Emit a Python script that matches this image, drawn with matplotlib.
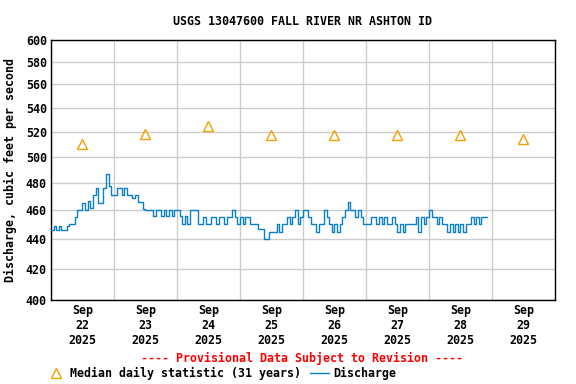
import numpy as np
import pandas as pd
import matplotlib
matplotlib.use("Agg")
import matplotlib.pyplot as plt
import matplotlib.dates as mdates
from matplotlib.ticker import FixedLocator, FixedFormatter, NullLocator

# Median daily statistic, one per day (plotted at noon)
median_days = ["2025-09-22", "2025-09-23", "2025-09-24", "2025-09-25",
               "2025-09-26", "2025-09-27", "2025-09-28", "2025-09-29"]
median_cfs = [510, 518, 525, 517, 517, 517, 517, 514]

# Hourly discharge, starting Sep 22 00:00
sep22 = [446, 449, 446, 449, 446, 446, 449, 450, 450, 455, 460, 460,
         465, 460, 467, 462, 471, 476, 465, 465, 476, 487, 478, 471]
sep23 = [471, 476, 476, 471, 476, 471, 471, 469, 471, 466, 466, 461,
         460, 460, 460, 456, 460, 460, 456, 460, 456, 460, 456, 460]
sep24 = [460, 456, 450, 456, 450, 460, 460, 460, 450, 450, 455, 450,
         450, 455, 455, 450, 455, 455, 450, 455, 455, 460, 455, 450]
sep25 = [455, 450, 455, 455, 450, 450, 450, 447, 447, 440, 440, 445,
         445, 445, 450, 445, 450, 450, 455, 450, 455, 460, 450, 455]
sep26 = [460, 460, 455, 450, 450, 445, 450, 450, 460, 455, 450, 445,
         450, 445, 450, 455, 460, 466, 460, 460, 455, 460, 455, 450]
sep27 = [450, 450, 455, 455, 450, 455, 450, 455, 450, 450, 455, 450,
         445, 450, 445, 450, 450, 450, 450, 455, 445, 455, 450, 455]
sep28 = [460, 455, 455, 450, 455, 450, 450, 445, 450, 445, 450, 445,
         450, 445, 450, 450, 455, 450, 455, 450, 455, 455, 455]

discharge = sep22 + sep23 + sep24 + sep25 + sep26 + sep27 + sep28
times = pd.date_range("2025-09-22 00:00", periods=len(discharge), freq="h")
median_times = pd.to_datetime(median_days) + pd.Timedelta(hours=12)

yticks = [400, 420, 440, 460, 480, 500, 520, 540, 560, 580, 600]

font = {"family": "DejaVu Sans Mono", "weight": "bold", "size": 8.4}

fig = plt.figure(figsize=(5.76, 3.84), dpi=100)
ax = fig.add_axes([0.0885, 0.21875, 0.875, 0.677])

line, = ax.plot(times, discharge, drawstyle="steps-post", color="#0a80cc",
                linewidth=1.0, zorder=3)
med, = ax.plot(median_times, median_cfs, linestyle="none", marker="^",
               markersize=7.5, markerfacecolor="none", markeredgecolor="#f5a000",
               markeredgewidth=1.0, zorder=4)

ax.set_yscale("log")
ax.set_ylim(400, 600)
ax.yaxis.set_major_locator(FixedLocator(yticks))
ax.yaxis.set_major_formatter(FixedFormatter([str(v) for v in yticks]))
ax.yaxis.set_minor_locator(NullLocator())

ax.set_xlim(pd.Timestamp("2025-09-22"), pd.Timestamp("2025-09-30"))
ax.xaxis.set_major_locator(mdates.HourLocator(byhour=12))
ax.xaxis.set_major_formatter(mdates.DateFormatter("%b\n%d\n%Y"))
ax.xaxis.set_minor_locator(mdates.DayLocator())

ax.grid(True, which="minor", axis="x", color="#cccccc", linewidth=1)
ax.grid(True, which="major", axis="y", color="#cccccc", linewidth=1)
ax.set_axisbelow(True)
ax.tick_params(which="both", length=0, pad=3)
for lab in ax.get_xticklabels() + ax.get_yticklabels():
    lab.set_fontproperties(matplotlib.font_manager.FontProperties(**font))
for lab in ax.get_xticklabels():
    lab.set_linespacing(1.2)
for s in ax.spines.values():
    s.set_linewidth(1.0)

ax.set_title("USGS 13047600 FALL RIVER NR ASHTON ID", fontdict=font, pad=11)
ax.set_ylabel("Discharge, cubic feet per second", fontdict=font, labelpad=6)

fig.text(0.524, 0.067, "---- Provisional Data Subject to Revision ----",
         ha="center", va="center", color="red", **font)
fig.legend([med, line], ["Median daily statistic (31 years)", "Discharge"],
           loc="center left", bbox_to_anchor=(0.081, 0.028), ncol=2, frameon=False,
           prop=font, handlelength=1.6, handletextpad=0.4, columnspacing=0.8,
           borderpad=0, borderaxespad=0)

fig.savefig("out.png", dpi=100)
